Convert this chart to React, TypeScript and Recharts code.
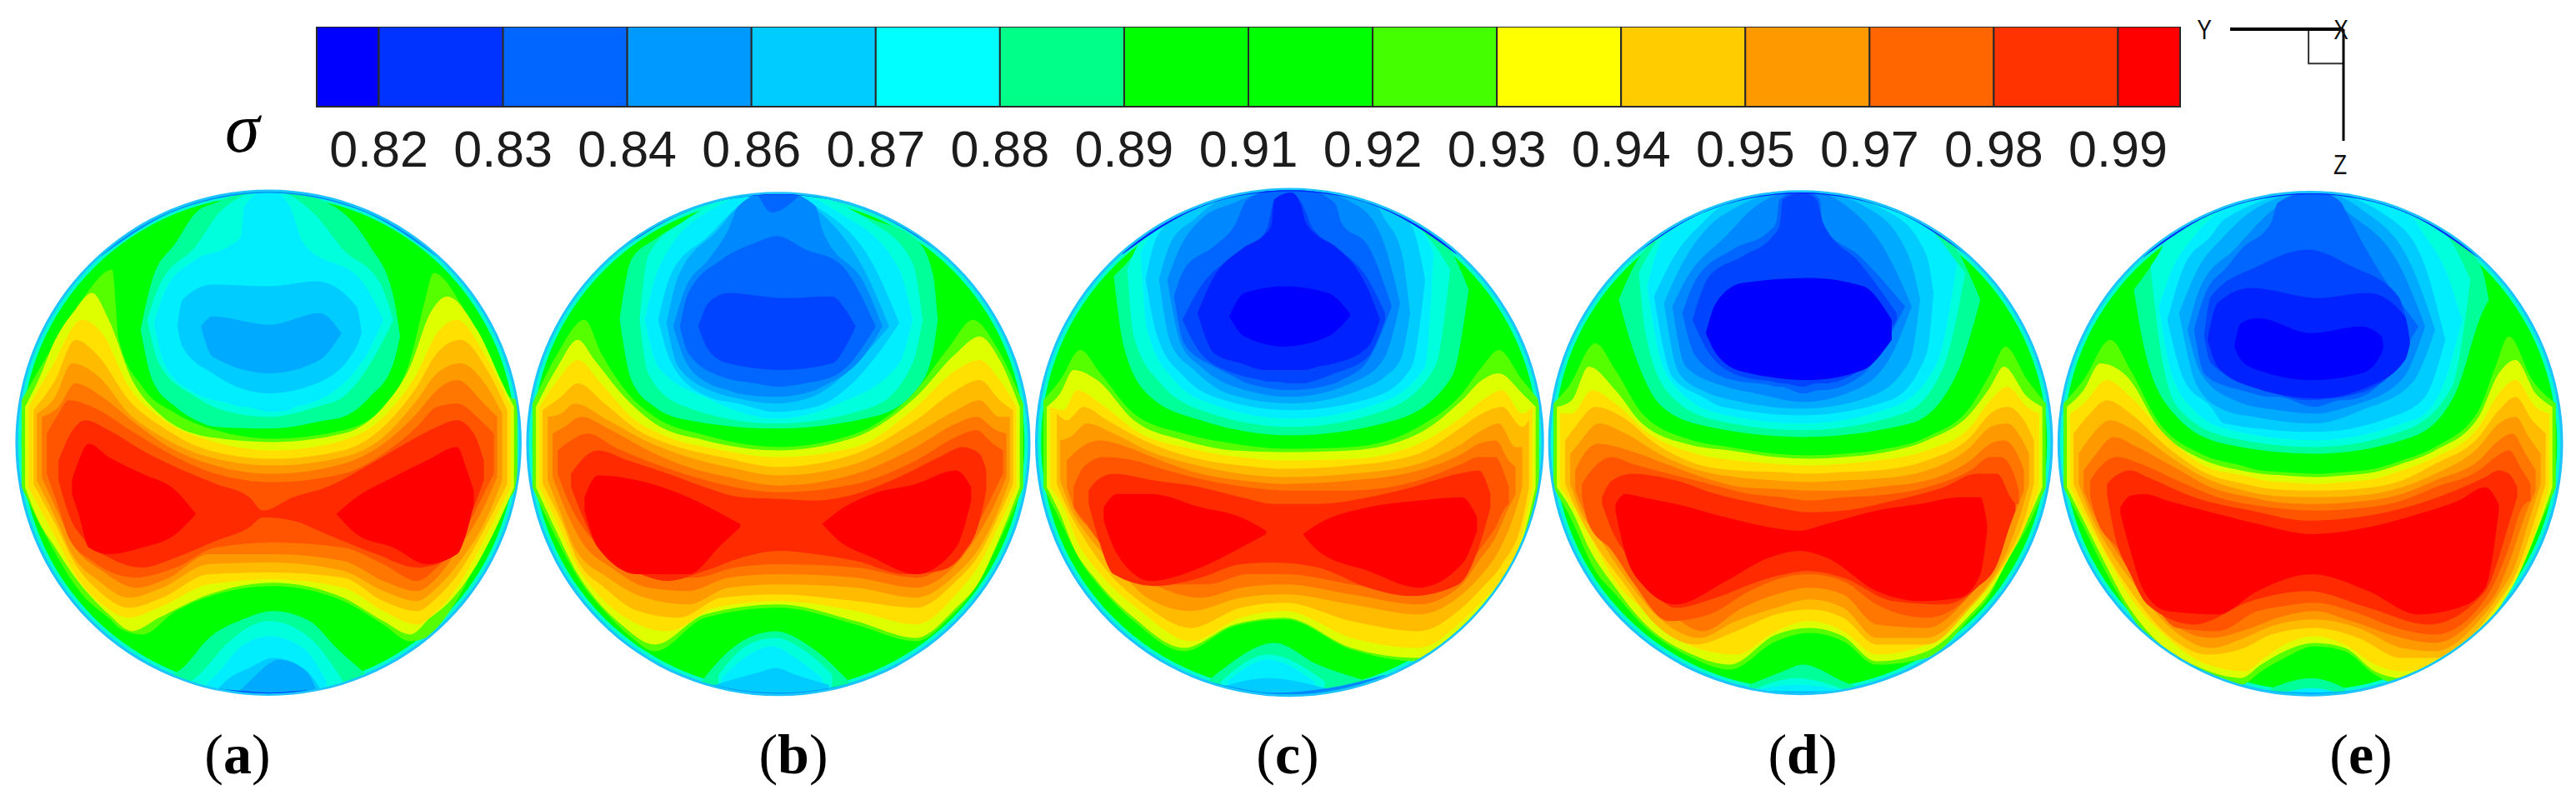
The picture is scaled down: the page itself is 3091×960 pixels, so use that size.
import { Area, Bar, BarChart, ComposedChart, Line, ReferenceDot, XAxis, YAxis } from "recharts";

// sigma colour bar
const legendColors = ["#0000ff", "#0033ff", "#0066ff", "#0099ff", "#00ccff", "#00ffff", "#00ff88", "#00ff00", "#00ff00", "#44ff00", "#ffff00", "#ffcc00", "#ff9900", "#ff6600", "#ff3300", "#ff0000"];
const legendLabels = ["0.82", "0.83", "0.84", "0.86", "0.87", "0.88", "0.89", "0.91", "0.92", "0.93", "0.94", "0.95", "0.97", "0.98", "0.99"];
const legendWidths = [0.5, 1, 1, 1, 1, 1, 1, 1, 1, 1, 1, 1, 1, 1, 1, 0.5];
const legendTicks = [0.5, 1.5, 2.5, 3.5, 4.5, 5.5, 6.5, 7.5, 8.5, 9.5, 10.5, 11.5, 12.5, 13.5, 14.5];

// contour shades, blue to red
const shades = ["#0000ff", "#0022ff", "#0044ff", "#0066ff", "#0088ff", "#00aaff", "#00ccff", "#00eeff", "#00ffdd", "#00ff99", "#00ff00", "#55ff00", "#ddff00", "#ffe000", "#ffbb00", "#ff9900", "#ff7700", "#ff5500", "#ff2a00", "#ff0000"];

// each contour is [shade, x stations, upper edge, lower edge]
type Contour = [number, number[], number[], number[]];

const panelA: Contour[] = [
  [11, [4,12,22,31,33,40,50,62,79,100,112,120,124.5,127,135,146,152], [66,52,36,27,48,62,70,75,77.5,75,68,54,36,28,37,62,66], [92,108,124,132,134,136,129,124,121.5,126,133,138,137,135,124,101,92]],
  [12, [5,9,14,20,25,30,37,45,60,79,100,112,120,126,131,140,148,151], [68,60,48,39,34,42,60,70,77,78.5,76,68,56,40,35,45,62,68], [92,102,110,119,125,130,135,131,124,120.5,125,132,136,131,127,115,99,92]],
  [13, [6,13,22,28,36,45,60,79,100,112,122,128,134,142,150], [68,56,42,46,62,71,78,81,78,71,58,46,42,52,68], [92,105,121,127,131,128,121,119.5,122,129,133,129,122,108,92]],
  [14, [7.5,14,20,27,36,46,60,79,100,112,122,128,135,143,149], [69,60,48,53,66,74,81,83.5,81,74,62,52,48,57,69], [91,103,115,123,128,125,118,117.5,119,126,129,125,117,103,91]],
  [15, [8.5,14,19,27,36,46,60,79,100,112,122,128,135,143,147.5], [70,65,55,59,70,77,83,85.5,83,77,66,58,55,62,70], [90,101,112,120,125,122,115,114.5,117,123,126,122,114,101,90]],
  [16, [10,15,20,28,38,48,60,79,100,112,122,128,134,142,146], [71,68,61,65,73,80,85,88,85,79,70,63,60,67,71], [89,100,110,117,122,119,112,112,114,120,123,119,111,98,89]],
  [17, [11.5,15,18,25,38,50,62,79,100,112,122,128,134,141,145], [76,70,66,68,76,83,88,90.5,88,82,74,68,67,72,76], [88,98,107,114,119,116,110,108.5,110,115,120,116,109,96,88]],
  [18, [15,18,23,30,40,50,62,72,76,85,95,110,122,128,134,139,142], [84,77,72,75,81,86,91,95,99,95,92,84,77,74,72,76,84], [90,100,108,113,116,113,108,104,101,102,106,112,116,115,108,98,90]],
  [19, [19,21,24,30,40,50,56], [90,84,79,83,88,93,100], [94,100,110,112,110,106,100]],
  [19, [98,104,115,125,134,137,139], [100,95,89,84,80,87,93], [100,106,110,115,112,105,97]],
  [9, [39.5,43,50,56,62,78,95,100,108,115,117], [45,30,19,10,7,3,7,10,20,35,47], [45,60,68,72,74,74.5,72,71,65,55,47]],
  [8, [41.5,45,56,64,78,92,100,111,115], [42,32,20,9,3,11,21,31,42], [42,55,65,69,71,68,65,50,42]],
  [7, [43.5,47,56,66,69.5,70.5,78,84,85.5,88,106,112], [43,33,24,20,17,8,3,8,12,19,31,42], [43,56,64,67,68,68,69.5,69,68,67.5,54,42]],
  [6, [50.5,52,61,78,92,104,105.5], [44,36,31.5,32,30.5,38,46], [44,50,58,64,61,50,46]],
  [5, [57.5,61,78,93,99.5], [44,41,43.5,40,46], [44,53,58,54,46]],
  [9, [45,52,60,70,79,90,98,107], [150,146,137,131.5,129,132,140,148], [157,157,157,157,157,157,157,157]],
  [8, [52,58,65,78,90,100], [152,147,139,132,137,150], [157,157,157,157,157,157]],
  [7, [58,63,69,78,88,95], [152,147,140,136.5,140,150], [157,157,157,157,157,157]],
  [6, [60,66,72,79,88,95], [155,149,146,143,146,155], [157,157,157,157,157,157]],
  [5, [66,72,81,89,93], [156,150,143.5,147,155], [157,157,157,157,157]],
  [4, [27.7,47.7,62.7,77.7,92.7,107.7,127.7], [23,0,0,0,0,0,23], [23,10.4,5.7,4.1,5.7,10.4,23]],
  [2, [62,70,78,86,94], [152,152.9,153.3,152.9,152], [157,157,157,157,157]],
];

const panelB: Contour[] = [
  [11, [3.5,11,19,24,32,40,55,77,100,118,128,135,142,150], [67,52,42,52,64,71,76.5,80,76,63,50,42,50,67], [92,108,122,128,136,141,131,128,133,138,131,123,110,92]],
  [12, [4.5,11,17,22,30,40,55,77,100,118,130,137,143,149], [68,56,48,54,64,73,78,81,77,65,52,47,54,68], [92,106,118,125,133,139,130,127,132,137,128,120,107,92]],
  [13, [5.5,11,17,24,33,44,58,77,100,118,130,137,143,148], [68,60,54,61,71,77,80.5,83,80,68,57,54,60,68], [92,103,116,125,132,135,128,126,129,133,124,115,103,92]],
  [14, [6.5,12,17,25,35,47,60,77,100,118,130,137,143,147], [69,65,61,67,75,80,83,86,82,72,63,60,66,69], [91,102,114,122,129,131,125,124,126,128,120,112,100,91]],
  [15, [8,12,16,26,37,50,62,77,100,118,130,137,143,146], [71,70,67,72,78,83,86,88.5,85,76,69,66,71,71], [90,100,110,119,125,127,122,121,122,125,118,110,98,90]],
  [16, [9.5,13,18,27,38,50,62,77,100,118,130,136,142,145], [76,74,71,75,81,86,89,91.5,88,80,73,71,75,76], [89,98,108,116,122,123,119,118,119,122,115,107,96,89]],
  [17, [11,15,20,28,40,52,64,77,100,118,130,136,141,144], [81,78,76,80,85,89,92,93.5,91,84,77,75,79,81], [88,98,106,113,119,119,116,115,116,119,112,104,94,88]],
  [18, [15,19,23,32,44,55,66,77,88,100,115,125,132,137,139], [88,83,81,84,88,92,95,95.5,96,94,88,83,80,82,87], [92,102,110,116,120,117,113,111,112,114,118,117,112,102,93]],
  [19, [19,23,35,50,60,65.5], [95,88.5,90,95,100,103], [99,110,118,118,109,104]],
  [19, [90,95,105,118,130,134.5], [103,99,94,91,87,92], [103,108,113,118,110,96]],
  [9, [29.5,33,40,50,76,105,118,123,124.5], [42,24,18,12,3,12,18,28,42], [42,60,68,72,74.5,71,63,52,42]],
  [8, [35.5,38,48,76,105,117,120], [42,23,13,3,13,25,42], [42,58,67.5,73,68,55,42]],
  [7, [37,41,57,76,95,113,117], [42,27,9,3,10,27,42], [42,56,66,71.5,67,55,42]],
  [6, [41,45,56,65,76,88,106,113], [42,28,17,8,3,8,27,43], [42,55,65,67,69.5,68,53,43]],
  [5, [43.5,47,59,65,76,87,103,110], [43,29,15,8,3,8,28,44], [43,56,64,65.5,67,65,52,44]],
  [4, [45.5,49,56,62,65,76,88,90,103,108], [44,33,24,15,8,3,8,15,32,44], [44,54,61,63,64,65,63,62,52,44]],
  [3, [47.5,50,60,70,76.5,85,95,106], [44,34,24,19,17,21,25,44], [44,52,59,61,62,61,58,44]],
  [2, [53,56,62,78,93,97,100], [44,37,34,35.5,35,39,44], [44,51,55,57,55,50,44]],
  [3, [71,75,78,83], [3,3,3,3], [5,10,9,5]],
  [9, [54,62,76,87,98], [150,141,135,140,150], [157,157,157,157,157]],
  [8, [59,68,76,85,93], [148,139,137,141,148], [157,157,157,157,157]],
  [7, [60,70,75,82,90], [149,141,139.5,143,149], [157,157,157,157,157]],
  [6, [58,72,76,82,92], [151,147,146,148,151], [157,157,157,157,157]],
  [1, [26.9,46.9,61.9,76.9,91.9,106.9,126.9], [23,0,0,0,0,0,23], [23,10.8,6,4.6,6,10.8,23]],
  [4, [47,62,77,92,107], [148,152,153.4,152,148], [157,157,157,157,157]],
];

const panelC: Contour[] = [
  [11, [3,8,14,20,30,45,60,75,95,115,128,134,139,146,151], [66,60,51,58,70,76,79,80.5,80,74,64,56,51,60,66], [92,102,114,122,132,141,133.5,131.5,140.5,144,135,129,122,110,92]],
  [12, [4,8,12,19,30,45,60,75,95,115,128,134,139,146,150], [68,64,57,60,72,78,81,81.5,81,76,66,60,58,64,68], [92,100,110,120,131,140,133,131,140,143,134,128,121,108,92]],
  [13, [5,9,13,20,32,47,62,75,95,115,128,134,140,146,149], [68,69,63,67,76,80.5,83,84,83.5,79,71,66,63,70,68], [92,98,108,118,129,138,131,129,137,140,132,126,119,106,92]],
  [14, [7,10,15,22,33,47,62,75,95,115,128,134,140,146,148], [70,72,68,72,78,83,85.5,86.5,85.5,82,74,70,68,74,72], [91,98,107,117,127,134,128,126.5,132,135,128,122,115,102,92]],
  [15, [8,11,16,24,34,47,62,75,95,115,128,134,139,144,146], [78,77,73,76,81,85,88,89,88,85,79,75,73,80,80], [90,98,106,115,125,129,125,124,127,130,124,118,111,99,92]],
  [16, [10,13,20,28,38,50,62,75,95,115,128,133,138,142,144], [84,81,78,80,84,88,90,91,90,87,82,79,78,84,86], [92,100,106,116,122,125,122,121,124,127,121,114,107,98,94]],
  [17, [12,15,21,30,40,52,64,75,95,115,128,133,138,141,142], [92,86,83,84,87,90,92,93,93,90,85,83,83,89,92], [98,102,110,117,121,121,118,118,121,124,118,111,104,98,97]],
  [18, [16.5,19,24,36,50,62,72,85,100,113,127,133,136.5], [93,90,88,90,92,95,97,97,95,92,88,87,94], [97,106,118,121.5,119,115,114.5,116,122,124.5,121,110,98]],
  [19, [21,25,35,50,62,69.5], [98,94,94,98,101,105], [102,112,120,116,110,106]],
  [19, [80.5,85,100,115,128,132.5], [106,103,98,96,95,101], [106,111,117,122,115,105]],
  [9, [24,27,35,50,77,108,125,130], [29,26,17,9,2,9,22,33], [29,50,65,72,76.5,72,59,33]],
  [8, [28,30,38,53,77,105,120,124.5], [27,22,14,8,2,8,20,27], [27,47,61,70,74,69,56,27]],
  [7, [32,34,42,53,77,103,117,119.5], [22,18,11,7,2,7,17,22], [22,45,60,67,71.5,67,56,22]],
  [6, [33.5,37,45,57,77,102,113,117], [30,17,10,5,2,5,14,30], [30,47,59,66,69,65,56,30]],
  [5, [37.5,41,48,58,77,100,105,110,112.5], [30,19,12,5,2,5,12,22,40], [30,49,57,64,67,62,59,53,40]],
  [4, [40,44,50,60,77,97,105,109.5], [30,20,12,7,2,8,20,37], [30,49,56,62,65,60,53,37]],
  [3, [42,45,54,60,64,77,90,92,100,107], [35,27,20,14,6,2,7,13,20,38], [35,49,56,59,61,63,61,60,54,38]],
  [2, [44.5,50,60,68,70,72,77,81,83,90,100,105], [42,32,23,18,14,6,4,9,14,20,30,40], [42,52,58,60,60.5,60.5,61,61,60.5,58,53,42]],
  [1, [49,54,62,69,71,72,77,80,81,85,90,100,103.5], [40,29,21,16.5,14,6,4,8,12,17,20,33,42], [40,52,55,57,57,57,57,57,57,56,55,50,42]],
  [0, [58.5,63,75,88,94.5], [41,34,32,34,40], [41,47,50,47,41]],
  [9, [52,57,72,85,100], [150,146,138.5,145,150], [157,157,157,157,157]],
  [8, [56,70,87], [150,142,150], [157,157,157]],
  [7, [58,70,84], [150,143.5,150], [157,157,157]],
  [6, [55,70,87], [152,149,152], [157,157,157]],
  [1, [26.5,46.5,61.5,76.5,91.5,106.5,126.5], [22.5,0,0,0,0,0,22.5], [22.5,9.8,5,3.6,5,9.8,22.5]],
  [4, [46,61,72,88,105], [148,152,153.4,152,148], [157,157,157,157,157]],
];

const panelD: Contour[] = [
  [11, [3.5,8,16,22,30,45,56,70,80,90,100,115,128,134,138.5,145,150.5], [67,62,49,57,70,78,80,82,82.5,82,81,77,68,58,50,60,67], [92,100,117,124,133,143,146.5,138,135.5,138,145,143,131,124,115,104,92]],
  [12, [4.5,9,14,22,30,45,56,70,80,90,100,115,128,134,138,145,149.5], [68,66,56,63,73,79.5,81,83,83.5,83,82,78,70,62,56,65,68], [92,99,110,122,132,142,145,136,134,136.5,144,141,130,123,116,102,92]],
  [13, [5.5,9,15,22,32,46,58,70,80,90,100,115,128,134,139,145,148.5], [70,70,63,67,76,82,84,85,85.5,85,84,81,74,66,62,68,70], [92,97,108,120,130,140,142,135,132,135,142,139,128,121,114,102,92]],
  [14, [7,10,16,24,34,46,58,70,80,90,100,115,128,134,139,144,147], [78,74,68,71,79,85,87,87.5,88,87.5,87,84,77,70,68,72,78], [91,98,109,120,133,139,135,130,128.5,131,139,139,128,121,113,102,91]],
  [15, [8.5,11,17,25,35,47,58,70,80,90,100,115,128,134,139,143,145.5], [82,79,73,76,82,87,89,90,90.5,90,89.5,87,80,74,73,77,82], [91,98,107,119,131,137,132,128,125.5,128,137,137,127,120,111,100,91]],
  [16, [10,12,17,26,37,48,60,70,80,90,100,115,128,134,138,142,144], [87,83,79,81,85,89,92,92.5,93,93,92,90,84,79,78,82,87], [93,98,106,115,128,135,128,124,122,124,133,134,124,116,108,98,93]],
  [17, [12,14,21,27,38,50,62,72,80,90,100,115,128,134,137,141,142.5], [91,88,83,85,88,91,94,95,96,95,94.5,92,87,83,83,88,93], [95,103,111,120,132,130,123,119,118,120,127,131,124,116,109,97,97]],
  [18, [18,21,27,40,52,65,75,79,90,105,120,130,136,140,141.5], [95,90,88,90,94,97,99,99.5,99,96,92,88,88,95,97], [97,105,114,128,125,120,117.5,117,119,126,127,122,115,103,99]],
  [19, [22,25,30,40,55,68,77,85,100,113,125,131,133], [97,94,95,97,101,104,105,103,99,97,95,95,103], [99,112,121,127,120,113,111,113,123,126,125,118,105]],
  [9, [23,27,36,50,78,110,124,131], [36,27,16,9,3,9,21,36], [36,50,68,74,77,73,58,36]],
  [8, [29,31,38,52,78,108,120,126.5], [28,24,14,8,3,8,20,28], [28,46,64,72,75,70,56,28]],
  [7, [31.5,35,40,53,78,105,118,124], [32,20,14,7,3,7,17,25], [32,52,62,70,73,68,55,25]],
  [6, [33.5,39,48,54,78,104,115,117], [35,24,13,8,3,10,23,34], [35,59,65,68,70.5,66,52,34]],
  [5, [36.5,41,50,57,78,98,110,113], [37,27,14,9,3,9,24,36], [37,58,64,66,68.5,65,54,36]],
  [4, [39,43,55,64,78,91,103,110.5], [38,30,17,8,3,8,22,38], [38,56,62,64,66.5,64,55,38]],
  [3, [42,46,57,68,70,71,78,83,84,95,108.5], [40,30,21,15.5,13,6,3,6,14,23,38], [40,53,60,61.5,62,62,64,63,63,59,38]],
  [2, [45,50,60,69,71,72,78,82,84,95,106], [42,29,23,17,14,6,4,6,13,25,40], [42,52,59,60.5,61,61,62,61,61,57,42]],
  [0, [49,52,60,80,96,104.5], [46,37,31,29.5,32,42], [46,52,57.5,60,57,48]],
  [9, [62,72,78,90,95], [151,147,145,150,152], [157,157,157,157,157]],
  [8, [62,76,92], [153,149,153], [157,157,157]],
  [7, [62,76,92], [153,151,153], [157,157,157]],
  [1, [27.3,47.3,62.3,77.3,92.3,107.3,127.3], [23,0,0,0,0,0,23], [23,10.4,5.7,4.3,5.7,10.4,23]],
  [5, [50,62,78,94,106], [151,152.5,153,152.5,151], [157,157,157,157,157]],
];

const panelE: Contour[] = [
  [11, [4,10,18,24,32,45,57,63,70,79,88,97,105,115,128,133,137,144,151], [67,60,48,57,72,82,85.5,87,87.5,88,87.5,86.5,84,80,69,56,47,60,67], [92,104,120,130,141,148,151,147,143,139.5,141,148,151,149,138,131,122,108,92]],
  [12, [5,10,15,23,33,45,57,63,70,79,88,97,105,115,128,134,139,145,150], [68,63,55,59,75,83.5,87,88,88.5,89,88.5,87.5,85,81,71,58,54,64,68], [92,102,112,127,139,146,149,145,141,138.5,140,147,149,146,136,128,120,106,92]],
  [13, [6,10,17,24,35,47,58,64,70,79,88,97,105,115,128,134,139,145,149], [70,67,60,65,77,86,88.5,90,90.5,91,90.5,89.5,87,83,74,64,60,68,70], [92,100,113,125,137,145,147,143,139,136.5,139,145,147,145,135,127,119,105,92]],
  [14, [7,11,17,24,35,47,58,66,79,92,105,115,128,134,139,144,148], [76,71,66,70,80,88,91,92.5,93,92.5,90,85,77,69,65,72,76], [91,100,112,123,136,142,140,136,134,137,143,143,134,126,118,104,91]],
  [15, [8.5,12,18,25,36,48,58,66,79,92,105,115,128,134,139,143,146.5], [82,77,72,75,83,90,93,94.5,95,94.5,92,88,80,73,71,77,82], [91,100,111,121,134,140,137,133.5,131.5,134,140,141,132,124,115,102,91]],
  [16, [10,13,19,26,37,48,60,68,79,90,105,115,128,134,138,142,145], [87,83,77,80,86,92,95,96.5,97,96.5,94,90,84,78,76,82,87], [93,100,110,120,133,137,134,131,129,132,137,138.5,130,122,112,100,93]],
  [17, [12,14,20,27,38,50,62,70,79,90,105,115,128,133,137,141,143.5], [90,87,83,85,90,95,97.5,98.5,99,98.5,96,92,87,83,81,87,91], [95,102,110,120,134,135,129,127.5,126.5,129,134.5,136,128,120,110,98,96]],
  [18, [17,19,24,29,43,60,77,95,113,130,134,137,139.5], [91,89,87,89,95,99,102,100.5,96,89,87,88,92], [94,105,118,127,133,126,123,128,133,123,113,103,95]],
  [19, [21,24,28,35,50,62,78,95,110,122,130,134], [98,94.5,94,96,100,103,106,104,100,96,92,97], [100,111,123,129,130,123,118,123,130,128,122,99]],
  [9, [25,28,37,52,79,108,121,129,131], [33,29,17,9,3.5,9,18,27,36], [33,50,70,79,82,77,64,40,36]],
  [8, [30,32,38,53,79,106,120,125.5], [26,23,13,8,3.5,8,19,30], [26,44,68,77,80,75,62,30]],
  [7, [32.5,36,43,54,79,105,112,118,123], [38,28,17,8,3.5,8,17,27,42], [38,57,69,75,78,73,70,60,42]],
  [6, [35,40,48,52,79,102,112,118], [42,26,17,12,3.5,12,26,48], [42,60,68,73,75.5,71,65,48]],
  [5, [38.5,44,52,61,79,93,108,115], [40,27,17,9,3.5,9,26,45], [40,62,69,71,73,69,61,45]],
  [4, [41,45,55,68,79,89,105,112], [45,32,21,8,3.5,10,27,44], [45,58,66,69,70,68,60,44]],
  [3, [43,46,53,57,66,68,79,87,88,95,110], [45,35,26,21,13,7,3.5,7,9,22,44], [45,58,62,63,65,65,68,66,66,64,44]],
  [2, [46,48,62,77,90,104,107.5], [47,35,26,21,26,35,48], [47,55,62,66,64.5,56,48]],
  [1, [47,50,60,80,95,106,107.5], [48,37,32.5,35.5,34,41,49], [48,56,62,65.5,62,54,49]],
  [0, [55,57,62,78,93,99,99.5], [50,43,41.5,46,44,47,50], [50,54,57,60,58,52,50]],
  [9, [66,78,88], [152,149,152], [157,157,157]],
  [7, [68,78,88], [154,152,154], [157,157,157]],
  [1, [27.7,47.7,62.7,77.7,92.7,107.7,127.7], [23.4,0,0,0,0,0,23.4], [23.4,10.7,6,4.5,6,10.7,23.4]],
  [5, [50,64,78,92,106], [151,152.6,153.3,152.6,151], [157,157,157,157,157]],
];

// rim of each disc: centre x, centre y, radius
const rimA = [77.7, 78.7, 75.6];
const rimB = [76.9, 79.1, 75.3];
const rimC = [76.5, 78.6, 76];
const rimD = [77.3, 78.7, 75.4];
const rimE = [77.7, 79, 75.5];

const captions = ["a", "b", "c", "d", "e"];

// triad lines, top right
const triadY = [{ h: 0, v: 0 }, { h: 133, v: 0 }];
const triadZ = [{ h: 133, v: 0 }, { h: 133, v: 133 }];
const triadBoxTop = [{ h: 92, v: 0 }, { h: 92, v: 41 }, { h: 133, v: 41 }];

const DOMAIN = 156.8;
const CROP = 630;
const UNIT = CROP / DOMAIN;
const SERIF = "'Liberation Serif', serif";
const SANS = "'Liberation Sans', sans-serif";

const panelLefts = [10, 625, 1240, 1850, 2460];
const captionCenters = [285, 952, 1545, 2163, 2833];
const panels = [
  { contours: panelA, rim: rimA },
  { contours: panelB, rim: rimB },
  { contours: panelC, rim: rimC },
  { contours: panelD, rim: rimD },
  { contours: panelE, rim: rimE },
];

const hiddenAxes = [
  <XAxis key="x" type="number" dataKey="x" domain={[0, DOMAIN]} hide allowDataOverflow />,
  <YAxis key="y" type="number" domain={[0, DOMAIN]} reversed hide allowDataOverflow />,
];

function Disc({ contours, rim, left }: { contours: Contour[]; rim: number[]; left: number }) {
  const [cx, cy, r] = rim;
  const clip = `circle(${(r - 0.7) * UNIT}px at ${cx * UNIT}px ${cy * UNIT}px)`;
  return (
    <div style={{ position: "absolute", left, top: 215, width: CROP, height: CROP }}>
      {/* thin rim rings */}
      <div style={{ position: "absolute", left: 0, top: 0 }}>
        <ComposedChart width={CROP} height={CROP} margin={{ top: 0, right: 0, bottom: 0, left: 0 }} data={[{ x: cx, y: cy }]}>
          {hiddenAxes}
          <ReferenceDot x={cx} y={cy} r={r * UNIT} fill="#1cc4ff" stroke="none" />
          <ReferenceDot x={cx} y={cy} r={(r - 0.8) * UNIT} fill="#00ffcc" stroke="none" />
          <ReferenceDot x={cx} y={cy} r={(r - 1.8) * UNIT} fill="#00ff00" stroke="none" />
        </ComposedChart>
      </div>
      <div style={{ position: "absolute", left: 0, top: 0, clipPath: clip }}>
        <ComposedChart width={CROP} height={CROP} margin={{ top: 0, right: 0, bottom: 0, left: 0 }}>
          {hiddenAxes}
          {contours.map(([shade, xs, upper, lower], i) => (
            <Area
              key={i}
              data={xs.map((x, j) => ({ x, band: [upper[j], lower[j]] }))}
              dataKey="band"
              type="monotoneX"
              fill={shades[shade]}
              fillOpacity={1}
              stroke="none"
              dot={false}
              activeDot={false}
              isAnimationActive={false}
            />
          ))}
        </ComposedChart>
      </div>
    </div>
  );
}

function ColorBar() {
  const row: Record<string, number | string> = { name: "sigma" };
  legendWidths.forEach((w, i) => {
    row[`s${i}`] = w;
  });
  return (
    <div style={{ position: "absolute", left: 340, top: 32 }}>
      <BarChart
        layout="vertical"
        width={2316}
        height={196}
        data={[row]}
        barCategoryGap={0}
        margin={{ top: 0, right: 40, bottom: 0, left: 40 }}
      >
        <XAxis
          type="number"
          domain={[0, 15]}
          ticks={legendTicks}
          interval={0}
          tickFormatter={(_v: number, i: number) => legendLabels[i]}
          axisLine={false}
          tickLine={false}
          tickMargin={23}
          height={100}
          tick={{ fontSize: 61, fontFamily: SANS, fill: "#1c1c1c" }}
        />
        <YAxis type="category" dataKey="name" hide />
        {legendColors.map((c, i) => (
          <Bar key={i} dataKey={`s${i}`} stackId="bar" fill={c} stroke="#2a2a2a" strokeWidth={2} isAnimationActive={false} />
        ))}
      </BarChart>
    </div>
  );
}

function Triad() {
  return (
    <div style={{ position: "absolute", left: 2676, top: 33 }}>
      <ComposedChart width={140} height={140} margin={{ top: 2, right: 4, bottom: 4, left: 0 }}>
        <XAxis type="number" dataKey="h" domain={[0, 133]} hide />
        <YAxis type="number" domain={[0, 133]} reversed hide />
        <Line data={triadBoxTop} dataKey="v" stroke="#333" strokeWidth={2} dot={false} isAnimationActive={false} />
        <Line data={triadY} dataKey="v" stroke="#000" strokeWidth={4} dot={false} isAnimationActive={false} />
        <Line data={triadZ} dataKey="v" stroke="#000" strokeWidth={3} dot={false} isAnimationActive={false} />
      </ComposedChart>
    </div>
  );
}

function Letter({ left, top, text }: { left: number; top: number; text: string }) {
  return (
    <div style={{ position: "absolute", left, top, fontFamily: SANS, fontSize: 33, lineHeight: "33px", color: "#111", transform: "scaleX(0.8)" }}>
      {text}
    </div>
  );
}

export default function App() {
  return (
    <div style={{ position: "absolute", left: 0, top: 0, width: 3091, height: 960, background: "#fff", overflow: "hidden" }}>
      <ColorBar />
      <Triad />
      <Letter left={2634} top={19} text="Y" />
      <Letter left={2798} top={19} text="X" />
      <Letter left={2798} top={181} text="Z" />
      <div style={{ position: "absolute", left: 270, top: 112, fontFamily: SERIF, fontStyle: "italic", fontSize: 84, lineHeight: "84px", color: "#000" }}>σ</div>
      {panels.map((p, i) => (
        <Disc key={i} contours={p.contours} rim={p.rim} left={panelLefts[i]} />
      ))}
      {captions.map((c, i) => (
        <div
          key={c}
          style={{
            position: "absolute",
            left: captionCenters[i] - 60,
            top: 866,
            width: 120,
            textAlign: "center",
            fontFamily: SERIF,
            fontSize: 68,
            lineHeight: "78px",
            color: "#000",
          }}
        >
          (<b>{c}</b>)
        </div>
      ))}
    </div>
  );
}
